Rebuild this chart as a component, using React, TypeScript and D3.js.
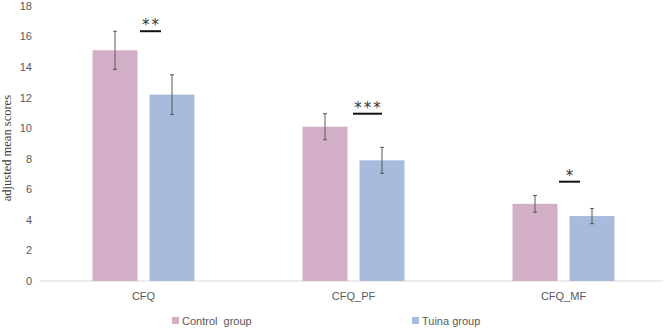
import React from 'react'
import { scaleBand, scaleLinear, range } from 'd3'

const categories = ['CFQ', 'CFQ_PF', 'CFQ_MF']
const seriesNames = ['Control  group', 'Tuina group']
const controlMeans = [15.1, 10.1, 5.05]
const tuinaMeans = [12.2, 7.9, 4.25]
const controlErr = [1.25, 0.85, 0.55]
const tuinaErr = [1.3, 0.85, 0.5]
const sigLabels = ['**', '***', '*']
const sigLevels = [16.35, 10.95, 6.5]
const yTicks = range(0, 19, 2)

const W = 669
const H = 330
const colors = ['#d3aec7', '#a8bbdc']
const sigOffset = [7, 14, 6]
const sigWidth = [21, 29, 21]

const App = () => {
  const x = scaleBand().domain(categories).range([38.5, 668.5])
  const y = scaleLinear().domain([0, 18]).range([281, 6])
  const barW = 45
  const gap = 12
  const series = [
    { means: controlMeans, err: controlErr },
    { means: tuinaMeans, err: tuinaErr },
  ]

  return (
    <svg width={W} height={H} style={{ position: 'absolute', left: 0, top: 0 }}>
      <rect width={W} height={H} fill="#fff" />
      {yTicks.map((t) => (
        <text key={t} x={32} y={y(t)} dy="0.35em" textAnchor="end"
          fontFamily="Liberation Sans, Arial, sans-serif" fontSize={11} fill="#595959">{t}</text>
      ))}
      <text transform={`translate(7 ${y(8.7)}) rotate(-90)`} textAnchor="middle" dy="0.35em"
        fontFamily="Liberation Serif, Times New Roman, serif" fontSize={12.5} fill="#404040">adjusted mean scores</text>
      <line x1={40} x2={663} y1={y(0)} y2={y(0)} stroke="#d9d9d9" strokeWidth={1} />
      {categories.map((c, i) => {
        const cx = x(c)! + x.bandwidth() / 2
        return (
          <g key={c}>
            {series.map((s, j) => {
              const bx = j === 0 ? cx - gap / 2 - barW : cx + gap / 2
              const mx = bx + barW / 2
              return (
                <g key={j}>
                  <rect x={bx} y={y(s.means[i])} width={barW} height={y(0) - y(s.means[i])} fill={colors[j]} />
                  <g stroke="#595959" strokeWidth={1}>
                    <line x1={mx} x2={mx} y1={y(s.means[i] + s.err[i])} y2={y(s.means[i] - s.err[i])} />
                    <line x1={mx - 2} x2={mx + 2} y1={y(s.means[i] + s.err[i])} y2={y(s.means[i] + s.err[i])} />
                    <line x1={mx - 2} x2={mx + 2} y1={y(s.means[i] - s.err[i])} y2={y(s.means[i] - s.err[i])} />
                  </g>
                </g>
              )
            })}
            <line x1={cx + sigOffset[i] - sigWidth[i] / 2} x2={cx + sigOffset[i] + sigWidth[i] / 2}
              y1={y(sigLevels[i])} y2={y(sigLevels[i])} stroke="#111" strokeWidth={2} />
            <text x={cx + sigOffset[i] + 1} y={y(sigLevels[i]) - 1} textAnchor="middle" letterSpacing={2}
              fontFamily="DejaVu Sans, sans-serif" fontSize={15} fill="#333">{sigLabels[i]}</text>
            <text x={cx} y={y(0) + 15} dy="0.35em" textAnchor="middle"
              fontFamily="Liberation Sans, Arial, sans-serif" fontSize={11} fill="#595959">{c}</text>
          </g>
        )
      })}
      {seriesNames.map((n, j) => {
        const lx = j === 0 ? 172 : 412
        return (
          <g key={n}>
            <rect x={lx} y={317} width={7} height={7} fill={colors[j]} />
            <text x={lx + 10} y={321} dy="0.35em" style={{ whiteSpace: 'pre' }}
              fontFamily="Liberation Sans, Arial, sans-serif" fontSize={11} fill="#595959">{n}</text>
          </g>
        )
      })}
    </svg>
  )
}

export default App
